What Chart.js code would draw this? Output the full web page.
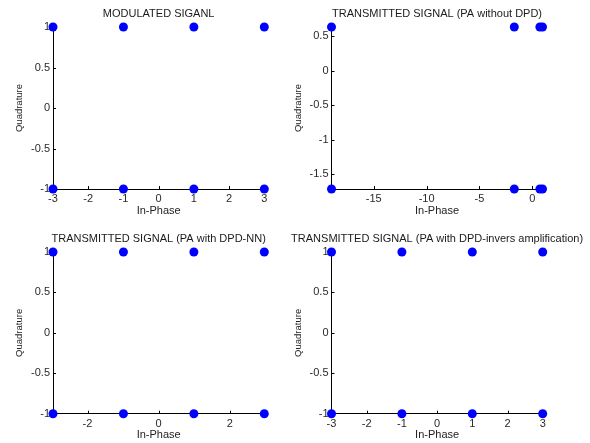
<!DOCTYPE html>
<html>
<head>
<meta charset="utf-8">
<script src="https://cdn.jsdelivr.net/npm/chart.js@4"></script>
<style>
  html, body { margin: 0; padding: 0; background: #fff; }
  #wrap { position: relative; width: 590px; height: 443px; }
  #wrap canvas { position: absolute; left: 0; top: 0; }
</style>
</head>
<body>
<div id="wrap">
  <canvas id="c1" width="590" height="443"></canvas>
  <canvas id="c2" width="590" height="443"></canvas>
  <canvas id="c3" width="590" height="443"></canvas>
  <canvas id="c4" width="590" height="443"></canvas>
</div>
<script>
// constellation points: in-phase / quadrature
const modI = [-3, -1, 1, 3, -3, -1, 1, 3]
const modQ = [1, 1, 1, 1, -1, -1, -1, -1]

const noDpdI = [-19, -1.7, 0.72, 0.97, -19, -1.7, 0.72, 0.97]
const noDpdQ = [0.63, 0.63, 0.63, 0.63, -1.715, -1.715, -1.715, -1.715]

const nnI = [-2.97, -0.99, 0.99, 2.97, -2.97, -0.99, 0.99, 2.97]
const nnQ = [1, 1, 1, 1, -1, -1, -1, -1]

const invI = [-3, -1, 1, 3, -3, -1, 1, 3]
const invQ = [1, 1, 1, 1, -1, -1, -1, -1]

// tick labels
const ticksIQ3 = [-3, -2, -1, 0, 1, 2, 3]
const ticksQ1 = [-1, -0.5, 0, 0.5, 1]
const ticksINoDpd = [-15, -10, -5, 0]
const ticksQNoDpd = [-1.5, -1, -0.5, 0, 0.5]
const ticksINn = [-2, 0, 2]

Chart.defaults.font.family = '"Liberation Sans", Arial, Helvetica, sans-serif'
Chart.defaults.color = '#2a2a2a'

const innerTicks = {
  id: 'innerTicks',
  beforeDatasetsDraw (chart) {
    const { ctx, chartArea: a, scales: { x, y } } = chart
    ctx.save()
    ctx.strokeStyle = '#000'
    ctx.lineWidth = 1
    ctx.beginPath()
    x.ticks.forEach(t => {
      const p = Math.round(x.getPixelForValue(t.value)) + 0.5
      ctx.moveTo(p, a.bottom)
      ctx.lineTo(p, a.bottom - 3)
    })
    y.ticks.forEach(t => {
      const p = Math.round(y.getPixelForValue(t.value)) + 0.5
      ctx.moveTo(a.left, p)
      ctx.lineTo(a.left + 3, p)
    })
    ctx.stroke()
    ctx.restore()
  }
}

const panelTitle = {
  id: 'panelTitle',
  afterDraw (chart, args, opts) {
    const { ctx, chartArea: a } = chart
    ctx.save()
    ctx.font = '11px "Liberation Sans", Arial, sans-serif'
    ctx.fillStyle = '#1a1a1a'
    ctx.textAlign = 'center'
    ctx.textBaseline = 'middle'
    ctx.fillText(opts.text, (a.left + a.right) / 2, a.top - 13)
    ctx.restore()
  }
}

const makePlot = (id, xs, ys, title, xTicks, yTicks, xMin, xMax, yMin, yMax, pad) => {
  const points = xs.map((v, i) => ({ x: v, y: ys[i] }))
  return new Chart(document.getElementById(id), {
    type: 'scatter',
    data: {
      datasets: [{
        data: points,
        backgroundColor: '#0000ff',
        borderColor: '#0000ff',
        borderWidth: 0,
        pointRadius: 4.5,
        clip: false
      }]
    },
    options: {
      responsive: false,
      animation: false,
      devicePixelRatio: 1,
      layout: { padding: pad, autoPadding: false },
      plugins: {
        legend: { display: false },
        tooltip: { enabled: false },
        panelTitle: { text: title }
      },
      scales: {
        x: {
          type: 'linear',
          min: xMin,
          max: xMax,
          afterBuildTicks: s => { s.ticks = xTicks.map(v => ({ value: v })) },
          afterFit: s => { s.height = 29.3; s.paddingLeft = 0; s.paddingRight = 0 },
          grid: { drawOnChartArea: false, drawTicks: false },
          border: { color: '#000', width: 1 },
          ticks: { padding: 3.4, font: { size: 11 }, maxRotation: 0, callback: v => String(v) },
          title: { display: true, text: 'In-Phase', font: { size: 11 }, color: '#222', padding: { top: 0, bottom: 1 } }
        },
        y: {
          type: 'linear',
          min: yMin,
          max: yMax,
          afterBuildTicks: s => { s.ticks = yTicks.map(v => ({ value: v })) },
          afterFit: s => { s.width = 39; s.paddingTop = 0; s.paddingBottom = 0 },
          grid: { drawOnChartArea: false, drawTicks: false },
          border: { color: '#000', width: 1 },
          ticks: { padding: 3, font: { size: 11 }, callback: v => String(v) },
          title: { display: true, text: 'Quadrature', font: { size: 9.5 }, color: '#222', padding: { top: 0, bottom: 0 } }
        }
      }
    },
    plugins: [innerTicks, panelTitle]
  })
}

makePlot('c1', modI, modQ, 'MODULATED SIGANL', ticksIQ3, ticksQ1, -3, 3, -1, 1,
  { left: 14, right: 325.7, top: 27, bottom: 224.7 })
makePlot('c2', noDpdI, noDpdQ, 'TRANSMITTED SIGNAL (PA without DPD)', ticksINoDpd, ticksQNoDpd, -19, 0.97, -1.715, 0.63,
  { left: 292.5, right: 47.5, top: 27, bottom: 224.7 })
makePlot('c3', nnI, nnQ, 'TRANSMITTED SIGNAL (PA with DPD-NN)', ticksINn, ticksQ1, -2.97, 2.97, -1, 1,
  { left: 14, right: 325.7, top: 252, bottom: 0 })
makePlot('c4', invI, invQ, 'TRANSMITTED SIGNAL (PA with DPD-invers amplification)', ticksIQ3, ticksQ1, -3, 3, -1, 1,
  { left: 292.5, right: 47.3, top: 252, bottom: 0 })
</script>
</body>
</html>
